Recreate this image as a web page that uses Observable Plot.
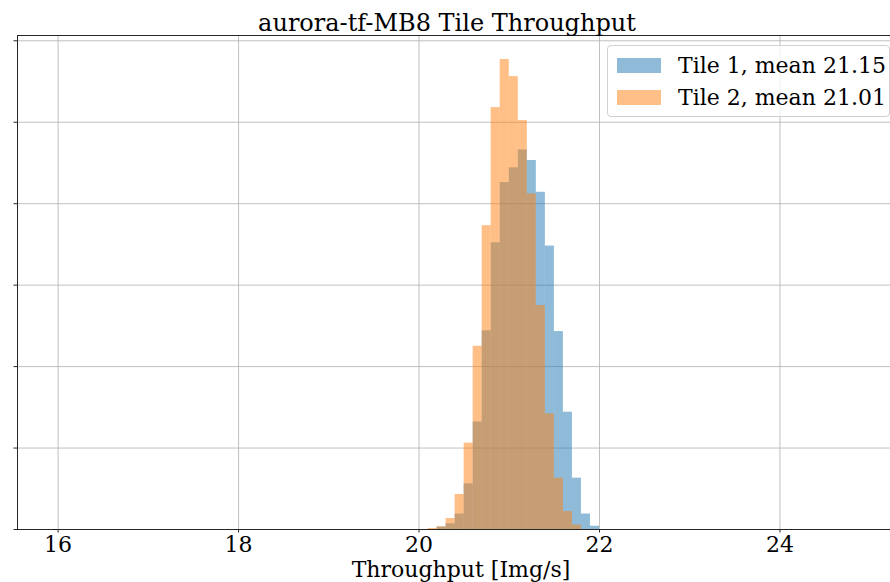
<!DOCTYPE html>
<html>
<head>
<meta charset="utf-8">
<script src="https://cdn.jsdelivr.net/npm/d3@7"></script>
<script src="https://cdn.jsdelivr.net/npm/@observablehq/plot@0.6"></script>
<style>
  html, body { margin: 0; padding: 0; background: #fff; }
  #wrap { position: relative; width: 890px; height: 582px; font-family: "DejaVu Serif", serif; }
  #legend { position: absolute; left: 607px; top: 45px; width: 281px; height: 70px;
    border: 1px solid #d0d0d0; border-radius: 4px; background: rgba(255,255,255,0.8);
    font-size: 22px; color: #000; }
  .item { position: absolute; left: 9px; height: 22px; display: flex; align-items: center; }
  .sw { width: 44px; height: 15px; margin-right: 17px; }
</style>
</head>
<body>
<div id="wrap"></div>
<script>
// Data
const binStarts = [20.1, 20.2, 20.3, 20.4, 20.5, 20.6, 20.7, 20.8, 20.9, 21.0, 21.1, 21.2, 21.3, 21.4, 21.5, 21.6, 21.7, 21.8, 21.9];
const binEnds   = [20.2, 20.3, 20.4, 20.5, 20.6, 20.7, 20.8, 20.9, 21.0, 21.1, 21.2, 21.3, 21.4, 21.5, 21.6, 21.7, 21.8, 21.9, 22.0];
const tile1 = [0, 3, 7, 19, 56, 132, 244, 352, 426, 444, 466, 453, 414, 348, 243, 144, 63, 19, 4];
const tile2 = [1.2, 3.3, 13.5, 43, 106, 225, 373, 518, 577, 556, 502, 412, 275, 142, 63, 22, 5.5, 0, 0];
const seriesNames = ["Tile 1, mean 21.15", "Tile 2, mean 21.01"];
const xTicks = [16, 18, 20, 22, 24];
const yTicks = [0, 100, 200, 300, 400, 500, 600];
const titleText = "aurora-tf-MB8 Tile Throughput";
const xLabel = "Throughput [Img/s]";

const colors = ["#1f77b4", "#ff7f0e"];
const rows = binStarts.map((s, i) => ({x1: s, x2: binEnds[i], t1: tile1[i], t2: tile2[i]}));
const xDomain = [15.55, 25.225];
const yDomain = [0, 606.5];

const chart = Plot.plot({
  width: 890,
  height: 582,
  marginLeft: 17,
  marginRight: 0,
  marginTop: 35,
  marginBottom: 53,
  style: {fontFamily: "DejaVu Serif, serif", background: "#fff", color: "#000"},
  x: {domain: xDomain},
  y: {domain: yDomain},
  marks: [
    Plot.gridX(xTicks, {stroke: "#b0b0b0", strokeOpacity: 1, strokeWidth: 0.8}),
    Plot.gridY(yTicks, {stroke: "#b0b0b0", strokeOpacity: 1, strokeWidth: 0.8}),
    Plot.rectY(rows, {x1: "x1", x2: "x2", y: "t1", fill: colors[0], fillOpacity: 0.5, inset: 0}),
    Plot.rectY(rows, {x1: "x1", x2: "x2", y: "t2", fill: colors[1], fillOpacity: 0.5, inset: 0}),
    Plot.ruleY([yDomain[0]], {stroke: "#262626", strokeWidth: 1}),
    Plot.ruleY([yDomain[1]], {stroke: "#262626", strokeWidth: 1}),
    Plot.ruleX([xDomain[0]], {stroke: "#262626", strokeWidth: 1}),
    Plot.axisX(xTicks, {tickSize: 3.5, tickPadding: 3, fontSize: 22, stroke: "#262626", label: null}),
    Plot.axisY(yTicks, {tickSize: 3.5, tickFormat: () => "", stroke: "#262626", label: null}),
    Plot.text([xLabel], {frameAnchor: "bottom", dy: 40, dx: 7, lineAnchor: "middle", fontSize: 22, fill: "#000"}),
    Plot.text([titleText], {frameAnchor: "top", dy: -22, fontSize: 24, fill: "#000", dx: -7})
  ]
});
const wrap = document.getElementById("wrap");
wrap.appendChild(chart);

const legend = document.createElement("div");
legend.id = "legend";
seriesNames.forEach((name, i) => {
  const it = document.createElement("div");
  it.className = "item";
  it.style.top = (i === 0 ? 8 : 40) + "px";
  const sw = document.createElement("div");
  sw.className = "sw";
  sw.style.background = colors[i];
  sw.style.opacity = 0.5;
  const tx = document.createElement("span");
  tx.textContent = name;
  it.appendChild(sw); it.appendChild(tx);
  legend.appendChild(it);
});
wrap.appendChild(legend);
</script>
</body>
</html>
